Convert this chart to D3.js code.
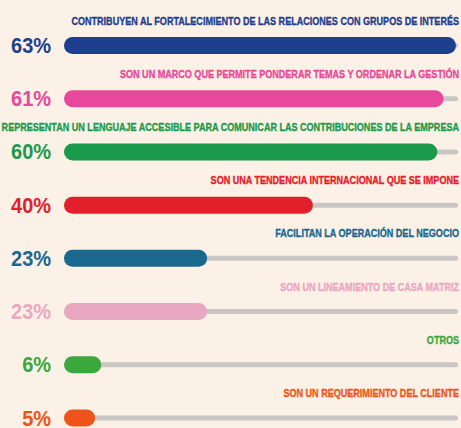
<!DOCTYPE html>
<html>
<head>
<meta charset="utf-8">
<script src="https://cdn.jsdelivr.net/npm/d3@7"></script>
<style>
  body { margin: 0; background: #fcf1e6; overflow: hidden; }
  svg { display: block; }
  .lbl { font-family: "Liberation Sans Narrow", "Liberation Sans", Arial, sans-serif; font-weight: bold; }
</style>
</head>
<body>
<script>
// chart data
var categories = [
  "CONTRIBUYEN AL FORTALECIMIENTO DE LAS RELACIONES CON GRUPOS DE INTERÉS",
  "SON UN MARCO QUE PERMITE PONDERAR TEMAS Y ORDENAR LA GESTIÓN",
  "REPRESENTAN UN LENGUAJE ACCESIBLE PARA COMUNICAR LAS CONTRIBUCIONES DE LA EMPRESA",
  "SON UNA TENDENCIA INTERNACIONAL QUE SE IMPONE",
  "FACILITAN LA OPERACIÓN DEL NEGOCIO",
  "SON UN LINEAMIENTO DE CASA MATRIZ",
  "OTROS",
  "SON UN REQUERIMIENTO DEL CLIENTE"
];
var values = [63, 61, 60, 40, 23, 23, 6, 5];
var colors = ["#1d3f8e", "#e8489b", "#1a9a4a", "#e2202b", "#186890", "#eaa7c1", "#3aa83d", "#ee5419"];

var svgWidth = 461;
var svgHeight = 428;

var svg = d3.select("body")
  .append("svg")
  .attr("width", svgWidth)
  .attr("height", svgHeight);

var barLeft = 64;
var barH = 17;

var xScale = d3.scaleLinear()
  .domain([0, 63])
  .range([barLeft, 456]);

var yScale = d3.scalePoint()
  .domain(categories)
  .range([45.5, 418]);

var rows = svg.selectAll(".row")
  .data(categories)
  .enter()
  .append("g")
  .attr("class", "row")
  .attr("transform", d => `translate(0, ${yScale(d)})`);

// grey track
rows.append("rect")
  .attr("x", barLeft)
  .attr("y", -2.5)
  .attr("width", 458 - barLeft)
  .attr("height", 5)
  .attr("rx", 2.5)
  .attr("fill", "#c9c6c4");

// value bar
rows.append("rect")
  .attr("x", barLeft)
  .attr("y", -barH / 2)
  .attr("width", (d, i) => xScale(values[i]) - barLeft)
  .attr("height", barH)
  .attr("rx", barH / 2)
  .attr("fill", (d, i) => colors[i]);

// percentage (condensed look via horizontal squeeze)
var pct = rows.append("g")
  .attr("transform", "translate(51, 7.5)")
  .append("text")
  .attr("class", "lbl")
  .attr("text-anchor", "end")
  .attr("font-size", 22)
  .attr("fill", (d, i) => colors[i])
  .text((d, i) => values[i] + "%");

var pctK = 40 / pct.node().getComputedTextLength();
pct.attr("transform", `scale(${pctK}, 1)`);

// category label
var lbl = rows.append("g")
  .attr("transform", "translate(459, -21)")
  .append("text")
  .attr("class", "lbl")
  .attr("text-anchor", "end")
  .attr("font-size", 11)
  .attr("fill", (d, i) => colors[i])
  .attr("stroke", (d, i) => colors[i])
  .attr("stroke-width", 0.35)
  .text(d => d);

var lblK = 388 / lbl.node().getComputedTextLength();
lbl.attr("transform", `scale(${lblK}, 1)`);
</script>
</body>
</html>
